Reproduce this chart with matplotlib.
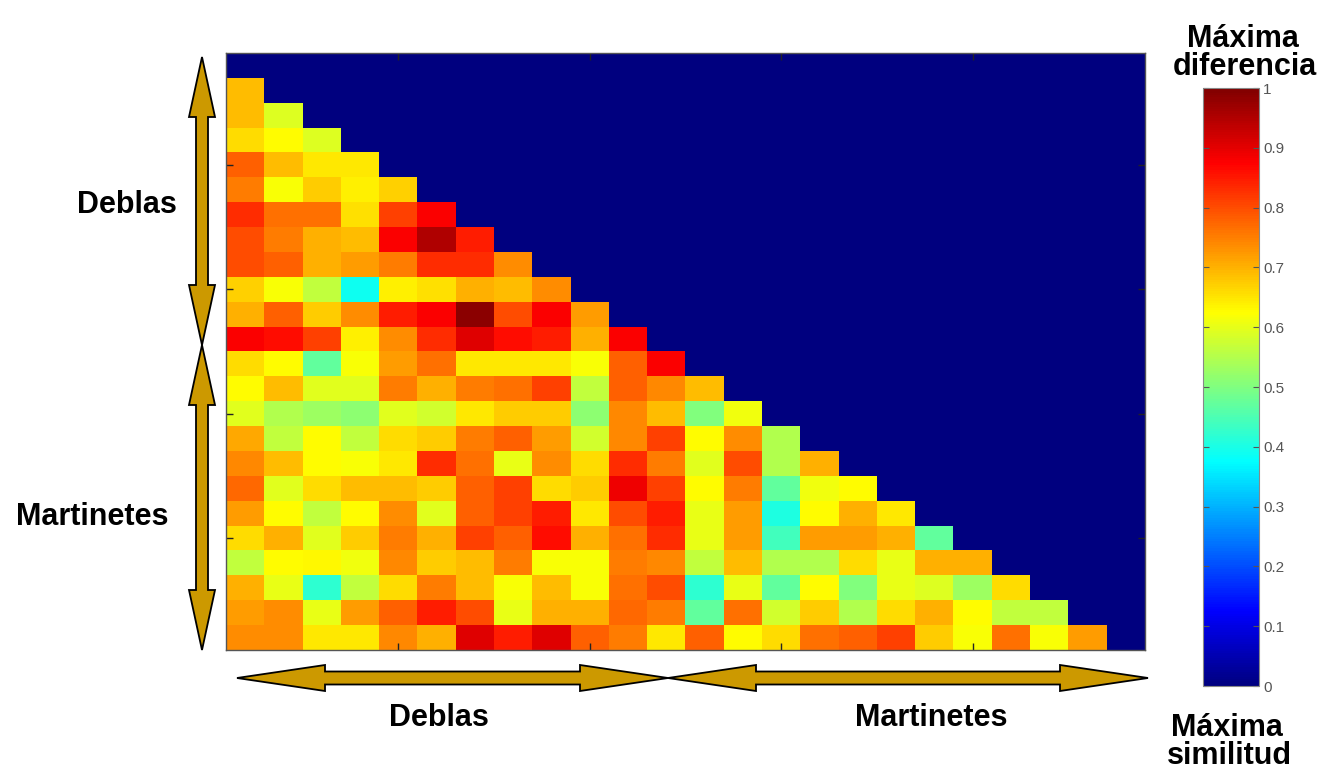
import numpy as np
import matplotlib
matplotlib.use("Agg")
import matplotlib.pyplot as plt
from matplotlib.colors import LinearSegmentedColormap
from matplotlib.patches import Polygon

# ----------------------------------------------------------------
# data: lower triangle of the distance matrix (row i has i cells)
# ----------------------------------------------------------------
N = 24
rows = [
    [],
    [0.69],
    [0.69, 0.59],
    [0.66, 0.625, 0.59],
    [0.78, 0.69, 0.645, 0.645],
    [0.75, 0.62, 0.675, 0.64, 0.67],
    [0.83, 0.765, 0.765, 0.655, 0.81, 0.875],
    [0.80, 0.75, 0.70, 0.69, 0.875, 0.95, 0.845],
    [0.80, 0.78, 0.70, 0.72, 0.75, 0.83, 0.83, 0.735],
    [0.67, 0.62, 0.5625, 0.39, 0.64, 0.655, 0.70, 0.69, 0.735],
    [0.70, 0.78, 0.675, 0.735, 0.845, 0.875, 0.985, 0.80, 0.875, 0.72],
    [0.875, 0.86, 0.81, 0.64, 0.735, 0.83, 0.905, 0.86, 0.845, 0.70, 0.875],
    [0.66, 0.625, 0.47, 0.62, 0.72, 0.765, 0.645, 0.645, 0.645, 0.62, 0.78, 0.875],
    [0.625, 0.69, 0.595, 0.595, 0.75, 0.70, 0.75, 0.765, 0.81, 0.5625, 0.78, 0.74, 0.69],
    [0.595, 0.547, 0.53, 0.515, 0.595, 0.58, 0.645, 0.675, 0.675, 0.515, 0.74, 0.69, 0.50, 0.61],
    [0.71, 0.5625, 0.625, 0.5625, 0.66, 0.675, 0.75, 0.78, 0.72, 0.58, 0.74, 0.81, 0.625, 0.735, 0.547],
    [0.74, 0.69, 0.625, 0.62, 0.645, 0.83, 0.765, 0.605, 0.735, 0.66, 0.83, 0.75, 0.595, 0.80, 0.547,
     0.70],
    [0.77, 0.595, 0.66, 0.69, 0.69, 0.675, 0.78, 0.81, 0.66, 0.675, 0.89, 0.81, 0.625, 0.75, 0.47,
     0.61, 0.625],
    [0.72, 0.625, 0.5625, 0.625, 0.735, 0.595, 0.78, 0.81, 0.845, 0.645, 0.80, 0.845, 0.605, 0.72, 0.405,
     0.625, 0.70, 0.645],
    [0.66, 0.70, 0.595, 0.675, 0.75, 0.70, 0.81, 0.78, 0.86, 0.70, 0.765, 0.83, 0.605, 0.72, 0.4375,
     0.72, 0.72, 0.70, 0.47],
    [0.5625, 0.625, 0.63, 0.61, 0.74, 0.675, 0.69, 0.75, 0.62, 0.62, 0.75, 0.74, 0.5625, 0.69, 0.547,
     0.55, 0.66, 0.605, 0.70, 0.70],
    [0.70, 0.605, 0.42, 0.5625, 0.66, 0.75, 0.69, 0.62, 0.69, 0.62, 0.765, 0.80, 0.42, 0.605, 0.47,
     0.625, 0.50, 0.605, 0.59, 0.53, 0.66],
    [0.72, 0.735, 0.605, 0.72, 0.78, 0.845, 0.80, 0.605, 0.70, 0.70, 0.77, 0.75, 0.47, 0.765, 0.58,
     0.675, 0.55, 0.66, 0.70, 0.625, 0.5625, 0.5625],
    [0.735, 0.735, 0.645, 0.645, 0.74, 0.70, 0.905, 0.845, 0.905, 0.78, 0.75, 0.645, 0.78, 0.625, 0.66,
     0.765, 0.78, 0.81, 0.675, 0.62, 0.765, 0.62, 0.72],
]
tick_pos = [5, 10, 15, 20]
cbar_ticks = [0, 0.1, 0.2, 0.3, 0.4, 0.5, 0.6, 0.7, 0.8, 0.9, 1]
cbar_labels = ["0", "0.1", "0.2", "0.3", "0.4", "0.5", "0.6", "0.7", "0.8", "0.9", "1"]
group_labels = ["Deblas", "Martinetes"]

M = np.zeros((N, N))
for i, r in enumerate(rows):
    M[i, :len(r)] = r

# matlab style jet
jet = LinearSegmentedColormap.from_list("mjet", [
    (0.0, (0, 0, 0.5)), (0.125, (0, 0, 1)), (0.375, (0, 1, 1)),
    (0.625, (1, 1, 0)), (0.875, (1, 0, 0)), (1.0, (0.5, 0, 0))])

W, H = 1324, 773
fig = plt.figure(figsize=(W / 100, H / 100), dpi=100)

def fig_rect(x0, y0, x1, y1):
    return [x0 / W, 1 - y1 / H, (x1 - x0) / W, (y1 - y0) / H]

ax = fig.add_axes(fig_rect(226, 53, 1145, 650))
im = ax.imshow(M, cmap=jet, vmin=0, vmax=1, aspect="auto", interpolation="nearest",
               extent=(0.5, N + 0.5, N + 0.5, 0.5))
ax.set_xticks(tick_pos)
ax.set_yticks(tick_pos)
ax.set_xticklabels([])
ax.set_yticklabels([])
ax.tick_params(direction="in", length=5, width=1, top=True, right=True, color="#222222")
for s in ax.spines.values():
    s.set_color("#555555")
    s.set_linewidth(1)

cax = fig.add_axes(fig_rect(1203, 88, 1259, 686))
cb = fig.colorbar(im, cax=cax, ticks=cbar_ticks)
cb.ax.set_yticklabels(cbar_labels)
cb.ax.tick_params(direction="in", length=4, width=0.8, left=True, right=True,
                  labelsize=11, labelcolor="#555555", color="#555555", pad=3)
for lab in cb.ax.get_yticklabels():
    lab.set_family(["Liberation Sans", "DejaVu Sans"])
cb.outline.set_edgecolor("#888888")

# overlay for arrows and labels (pixel coordinates)
ov = fig.add_axes([0, 0, 1, 1])
ov.set_xlim(0, W)
ov.set_ylim(H, 0)
ov.axis("off")
ov.patch.set_alpha(0)

def double_arrow(p0, p1, hl, hw, sw):
    p0 = np.array(p0, float)
    p1 = np.array(p1, float)
    d = (p1 - p0) / np.linalg.norm(p1 - p0)
    n = np.array([-d[1], d[0]])
    a, b = p0 + d * hl, p1 - d * hl
    pts = [p0, a + n * hw / 2, a + n * sw / 2, b + n * sw / 2, b + n * hw / 2, p1,
           b - n * hw / 2, b - n * sw / 2, a - n * sw / 2, a - n * hw / 2]
    ov.add_patch(Polygon(pts, closed=True, facecolor="#CC9900", edgecolor="black",
                         linewidth=1.3, joinstyle="miter"))

double_arrow((202, 57), (202, 345), 60, 26, 12)
double_arrow((202, 345), (202, 650), 60, 26, 12)
double_arrow((237, 678), (668, 678), 88, 26, 13)
double_arrow((668, 678), (1148, 678), 88, 26, 13)

bold = dict(fontsize=22, fontweight="bold", family=["Liberation Sans", "DejaVu Sans"], color="black")
narrow = dict(fontsize=22, fontweight="bold",
              family=["Liberation Sans Narrow", "Liberation Sans", "DejaVu Sans"], color="black")

ov.text(127, 205, group_labels[0], ha="center", va="center", **bold)
ov.text(92, 517, group_labels[1], ha="center", va="center", **bold)
ov.text(439, 718, group_labels[0], ha="center", va="center", **narrow)
ov.text(931, 718, group_labels[1], ha="center", va="center", **narrow)

ov.text(1243, 47, "Máxima", ha="center", va="baseline", **bold)
ov.text(1245, 75, "diferencia", ha="center", va="baseline", **bold)
ov.text(1227, 736, "Máxima", ha="center", va="baseline", **bold)
ov.text(1229, 764, "similitud", ha="center", va="baseline", **bold)

fig.savefig("out.png", dpi=100)
